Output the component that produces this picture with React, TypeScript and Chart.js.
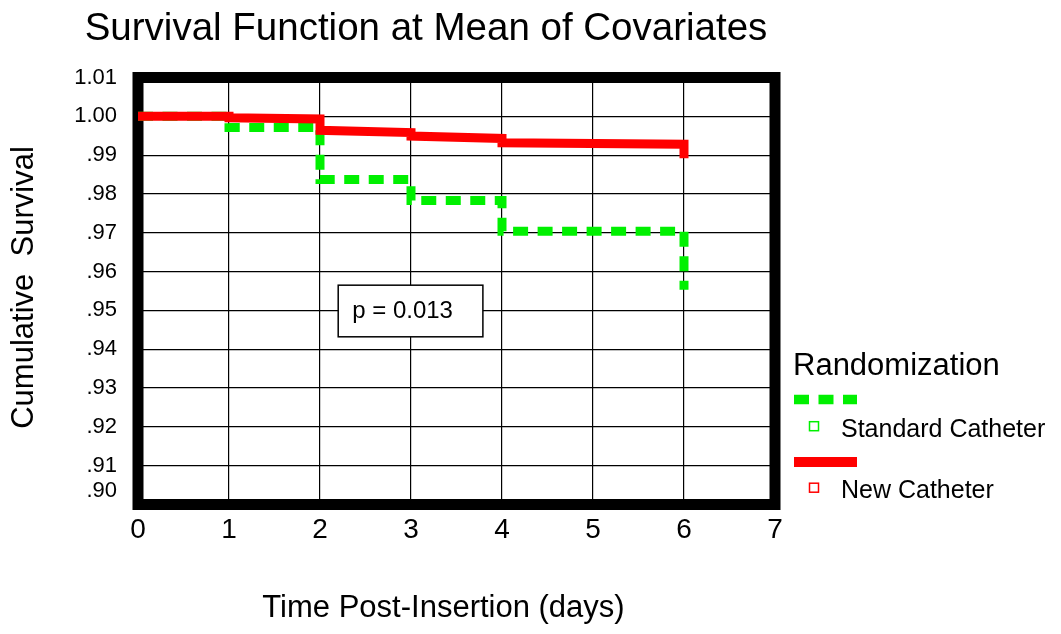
import React, { useEffect, useRef } from "react";
import { Chart, registerables } from "chart.js";

Chart.register(...registerables);

const FONT = '"Liberation Sans", Arial, Helvetica, sans-serif';

const chartTitle = "Survival Function at Mean of Covariates";
const xAxisTitle = "Time Post-Insertion (days)";
const yAxisTitle = "Cumulative  Survival";
const legendTitle = "Randomization";
const pValueText = "p = 0.013";

const xTickValues = [0, 1, 2, 3, 4, 5, 6, 7];
const yTickValues = [0.9, 0.91, 0.92, 0.93, 0.94, 0.95, 0.96, 0.97, 0.98, 0.99, 1.0, 1.01];
const yTickLabels = [".90", ".91", ".92", ".93", ".94", ".95", ".96", ".97", ".98", ".99", "1.00", "1.01"];

const seriesNames = ["New Catheter", "Standard Catheter"];
const seriesColors = ["#ff0000", "#00f000"];

const newCathTime = [0, 1, 1, 2, 2, 3, 3, 4, 4, 6, 6];
const newCathSurv = [1.0, 1.0, 0.9996, 0.9993, 0.9964, 0.9958, 0.9949, 0.9943, 0.9932, 0.9928, 0.9892];

const stdCathTime = [0, 1, 1, 2, 2, 3, 3, 4, 4, 6, 6];
const stdCathSurv = [1.0, 1.0, 0.9971, 0.9971, 0.9837, 0.9837, 0.9783, 0.9783, 0.9704, 0.9704, 0.9553];

const toPoints = (xs: number[], ys: number[]) => xs.map((x, i) => ({ x, y: ys[i] }));

const decorPlugin = {
  id: "decor",
  beforeDatasetsDraw(chart: any) {
    const { ctx, chartArea: a } = chart;
    const xs = chart.scales.x;
    const ys = chart.scales.y;
    ctx.save();
    // heavy frame
    ctx.strokeStyle = "#000";
    ctx.lineWidth = 11;
    ctx.lineJoin = "miter";
    ctx.strokeRect(a.left, a.top, a.right - a.left, a.bottom - a.top);
    // p-value box
    const bx0 = xs.getPixelForValue(2.2);
    const bx1 = xs.getPixelForValue(3.79);
    const by0 = ys.getPixelForValue(0.9565);
    const by1 = ys.getPixelForValue(0.9432);
    ctx.fillStyle = "#fff";
    ctx.fillRect(bx0, by0, bx1 - bx0, by1 - by0);
    ctx.lineWidth = 1.5;
    ctx.strokeRect(bx0, by0, bx1 - bx0, by1 - by0);
    ctx.fillStyle = "#000";
    ctx.font = `24px ${FONT}`;
    ctx.textAlign = "left";
    ctx.textBaseline = "alphabetic";
    ctx.fillText(pValueText, bx0 + 14, by0 + 33);
    ctx.restore();
  },
  afterDraw(chart: any) {
    const { ctx } = chart;
    ctx.save();
    ctx.fillStyle = "#000";
    ctx.textBaseline = "alphabetic";
    // title
    ctx.font = `38.5px ${FONT}`;
    ctx.textAlign = "center";
    ctx.fillText(chartTitle, 426, 40);
    // x axis title
    ctx.font = `31px ${FONT}`;
    ctx.fillText(xAxisTitle, 443.5, 617);
    // y axis title
    ctx.save();
    ctx.translate(33, 287.5);
    ctx.rotate(-Math.PI / 2);
    ctx.fillText(yAxisTitle, 0, 0);
    ctx.restore();
    // legend
    ctx.textAlign = "left";
    ctx.font = `31px ${FONT}`;
    ctx.fillText(legendTitle, 793, 375);
    const entries = [
      { name: seriesNames[1], color: seriesColors[1], dash: [15, 9.5], lineY: 399.5, boxY: 426.2, textY: 437 },
      { name: seriesNames[0], color: seriesColors[0], dash: [], lineY: 462, boxY: 487.7, textY: 498.3 },
    ];
    for (const e of entries) {
      ctx.save();
      ctx.strokeStyle = e.color;
      ctx.lineWidth = e.dash.length ? 9.5 : 10;
      ctx.setLineDash(e.dash);
      ctx.beginPath();
      ctx.moveTo(794, e.lineY);
      ctx.lineTo(857, e.lineY);
      ctx.stroke();
      ctx.setLineDash([]);
      ctx.lineWidth = 1.5;
      ctx.strokeRect(809.5, e.boxY - 4.5, 9, 9);
      ctx.restore();
      ctx.font = `25px ${FONT}`;
      ctx.fillText(e.name, 841, e.textY);
    }
    ctx.restore();
  },
};

export default function App() {
  const canvasRef = useRef<HTMLCanvasElement | null>(null);

  useEffect(() => {
    if (!canvasRef.current) return;
    const chart = new Chart(canvasRef.current, {
      type: "line",
      data: {
        datasets: [
          {
            label: seriesNames[0],
            data: toPoints(newCathTime, newCathSurv),
            borderColor: seriesColors[0],
            backgroundColor: seriesColors[0],
            borderWidth: 9,
            pointRadius: 0,
            tension: 0,
            fill: false,
          },
          {
            label: seriesNames[1],
            data: toPoints(stdCathTime, stdCathSurv),
            borderColor: seriesColors[1],
            backgroundColor: seriesColors[1],
            borderWidth: 9,
            borderDash: [15, 9.5],
            pointRadius: 0,
            tension: 0,
            fill: false,
          },
        ],
      },
      options: {
        animation: false,
        responsive: false,
        devicePixelRatio: 1,
        layout: { padding: { top: 77.5, right: 286, left: 0, bottom: 0 } },
        plugins: {
          legend: { display: false },
          title: { display: false },
          tooltip: { enabled: false },
        },
        scales: {
          x: {
            type: "linear",
            min: 0,
            max: 7,
            afterFit: (s: any) => {
              s.height = 129.5;
            },
            afterBuildTicks: (s: any) => {
              s.ticks = xTickValues.map((v) => ({ value: v }));
            },
            ticks: {
              autoSkip: false,
              maxRotation: 0,
              padding: 9,
              color: "#000",
              font: { family: FONT, size: 28 },
              callback: (v: any) => String(v),
            },
            grid: { color: "#000", lineWidth: 1.2, drawTicks: false },
            border: { display: false },
          },
          y: {
            type: "linear",
            min: 0.9,
            max: 1.01,
            afterFit: (s: any) => {
              s.width = 138;
            },
            afterBuildTicks: (s: any) => {
              s.ticks = yTickValues.map((v) => ({ value: v }));
            },
            ticks: {
              autoSkip: false,
              padding: 21,
              color: "#000",
              font: { family: FONT, size: 22 },
              callback: (_v: any, i: number) => (i === 0 ? [yTickLabels[i], ""] : yTickLabels[i]),
            },
            grid: { color: "#000", lineWidth: 1.2, drawTicks: false },
            border: { display: false },
          },
        },
      },
      plugins: [decorPlugin],
    });
    return () => chart.destroy();
  }, []);

  return (
    <div style={{ position: "absolute", left: 0, top: 0, width: 1061, height: 634, background: "#fff" }}>
      <canvas ref={canvasRef} width={1061} height={634} style={{ display: "block" }} />
    </div>
  );
}
